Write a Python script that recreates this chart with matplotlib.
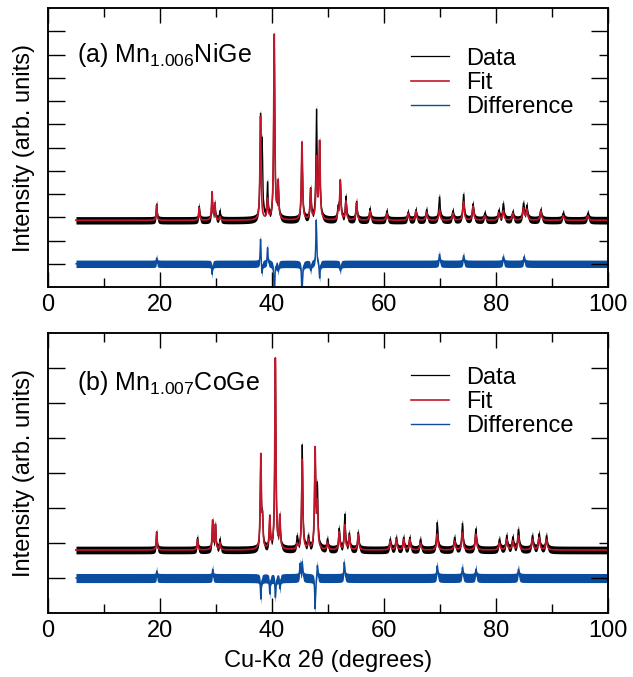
import matplotlib.pyplot as plt
import numpy as np

plt.rcParams['font.family'] = ['Liberation Sans', 'DejaVu Sans']
plt.rcParams['mathtext.default'] = 'regular'
plt.rcParams['font.size'] = 17

two_theta = np.arange(5, 100.0001, 0.01)

# ---- panel (a) Mn1.006NiGe : peak positions (deg) and heights
a_fit_pos = [19.4, 27.0, 29.3, 29.8, 30.7, 37.95, 39.2, 40.4, 41.1, 45.35, 46.9, 47.95, 48.5,
             51.8, 52.2, 53.2, 55.1, 57.5, 60.5, 64.3, 65.7, 67.6, 69.9, 72.3, 74.2, 75.9,
             78.0, 80.5, 81.3, 83.0, 84.9, 85.5, 88.0, 92.0, 96.4]
a_fit_amp = [0.65, 0.55, 1.2, 0.7, 0.15, 4.45, 0.85, 7.95, 1.55, 3.35, 1.3, 2.6, 3.3,
             0.3, 1.7, 0.8, 0.75, 0.4, 0.3, 0.3, 0.4, 0.35, 0.45, 0.3, 0.8, 0.6,
             0.2, 0.3, 0.4, 0.3, 0.5, 0.45, 0.4, 0.2, 0.2]
a_data_pos = a_fit_pos + [38.25]
a_data_amp = [0.7, 0.6, 1.1, 0.7, 0.4, 4.2, 1.5, 7.9, 1.5, 3.3, 1.3, 4.6, 3.2,
              0.5, 1.6, 1.0, 0.8, 0.5, 0.4, 0.35, 0.45, 0.45, 1.0, 0.4, 1.1, 0.7,
              0.3, 0.4, 0.7, 0.35, 0.7, 0.6, 0.45, 0.3, 0.3] + [3.0]
a_diff_pos = [19.4, 29.3, 37.95, 38.2, 39.2, 40.4, 41.1, 45.35, 46.9, 47.9, 48.5, 52.2,
              69.9, 74.2, 81.3, 85.0]
a_diff_amp = [0.25, -0.45, 1.1, -0.5, 0.7, -1.6, -0.3, -1.5, -0.3, 1.9, -0.65, -0.3,
              0.4, 0.35, 0.3, 0.3]
a_base, a_diff_base = 2.87, 1.0
a_noise, a_diff_noise = 0.16, 0.16

# ---- panel (b) Mn1.007CoGe
b_fit_pos = [19.4, 26.7, 29.4, 29.9, 30.7, 38.0, 38.3, 39.6, 40.6, 41.4, 44.5, 45.4, 46.5,
             47.7, 48.1, 49.9, 52.0, 53.0, 53.8, 55.4, 61.1, 62.2, 63.5, 64.6, 66.5, 69.5,
             72.6, 74.0, 76.4, 80.6, 81.9, 83.0, 84.0, 86.5, 87.7, 89.0]
b_fit_amp = [0.52, 0.3, 0.83, 0.7, 0.2, 2.65, 0.75, 0.9, 5.45, 0.9, 0.15, 2.57, 0.25,
             2.84, 1.2, 0.2, 0.5, 0.7, 0.4, 0.45, 0.25, 0.3, 0.3, 0.3, 0.2, 0.45,
             0.25, 0.5, 0.45, 0.2, 0.3, 0.25, 0.4, 0.3, 0.35, 0.3]
b_data_pos = b_fit_pos
b_data_amp = [0.5, 0.35, 0.8, 0.7, 0.3, 2.5, 0.8, 0.85, 5.4, 0.9, 0.35, 2.98, 0.35,
              2.7, 1.7, 0.3, 0.6, 1.0, 0.45, 0.5, 0.3, 0.35, 0.35, 0.35, 0.3, 0.78,
              0.35, 0.75, 0.6, 0.3, 0.4, 0.35, 0.57, 0.4, 0.45, 0.4]
b_diff_pos = [19.4, 29.4, 38.0, 39.6, 40.6, 41.4, 45.0, 45.4, 47.7, 48.1, 52.9, 69.5,
              74.0, 76.4, 84.0]
b_diff_amp = [0.2, 0.25, -0.6, -0.45, -0.55, -0.3, 0.4, 0.45, -0.9, 0.4, 0.45, 0.35,
              0.3, 0.25, 0.25]
b_base, b_diff_base = 1.8, 1.0
b_noise, b_diff_noise = 0.11, 0.13


def profile(pos, amp, scale=1.0):
    y = np.zeros_like(two_theta)
    for p, h in zip(pos, amp):
        hw = scale * (0.15 + 0.002 * p) / 2   # peaks get a bit wider at high angle
        y += h / (1 + ((two_theta - p) / hw) ** 2)
    return y


black, red, blue = '#000000', '#c4162a', '#0a4c9e'

fig = plt.figure(figsize=(6.33, 6.77), dpi=100)
ax_a = fig.add_axes([0.0758, 0.576, 0.8847, 0.412])
ax_b = fig.add_axes([0.0758, 0.0945, 0.8847, 0.4136])

panels = [
    (ax_a, a_fit_pos, a_fit_amp, a_data_pos, a_data_amp, a_diff_pos, a_diff_amp,
     a_base, a_diff_base, a_noise, a_diff_noise, 12, '(a) Mn$_{1.006}$NiGe', 0.8075, 0.858),
    (ax_b, b_fit_pos, b_fit_amp, b_data_pos, b_data_amp, b_diff_pos, b_diff_amp,
     b_base, b_diff_base, b_noise, b_diff_noise, 8, '(b) Mn$_{1.007}$CoGe', 0.796, 0.88),
]

for (ax, fp, fa, dp, da, sp, sa, base, dbase, nz, dnz, ytop, label, ly, legy) in panels:
    fit = base + profile(fp, fa)
    data = base + profile(dp, da)
    diff = dbase + profile(sp, sa, scale=0.7)

    ax.fill_between(two_theta, data - nz, data + nz, color=black, lw=0)
    ax.plot(two_theta, data, color=black, lw=0.9, label='Data')
    ax.plot(two_theta, fit, color=red, lw=1.2, label='Fit')
    ax.fill_between(two_theta, diff - dnz, diff + dnz, color=blue, lw=0)
    ax.plot(two_theta, diff, color=blue, lw=1.0, label='Difference')

    ax.set_xlim(0, 100)
    ax.set_ylim(0, ytop)
    ax.set_xticks(np.arange(0, 101, 20))
    ax.set_xticks(np.arange(10, 100, 20), minor=True)
    ax.set_yticks(np.arange(1, ytop))
    ax.set_yticklabels([])
    ax.tick_params(axis='x', which='major', direction='in', length=11, width=1.0,
                   top=True, pad=5)
    ax.tick_params(axis='x', which='minor', direction='in', length=6.5, width=1.0, top=True)
    ax.tick_params(axis='y', which='major', direction='in', length=12, width=1.0,
                   left=True, right=False)
    for s in ax.spines.values():
        s.set_linewidth(1.1)

    tw = ax.twinx()
    tw.set_ylim(0, ytop)
    tw.set_yticks(np.arange(1, ytop, 2))
    tw.set_yticks(np.arange(2, ytop, 2), minor=True)
    tw.set_yticklabels([])
    tw.tick_params(axis='y', which='major', direction='in', length=12, width=1.0)
    tw.tick_params(axis='y', which='minor', direction='in', length=6.5, width=1.0)
    for s in tw.spines.values():
        s.set_linewidth(1.1)

    ax.set_ylabel('Intensity (arb. units)', labelpad=6)
    ax.text(0.051, ly, label, transform=ax.transAxes, va='baseline', ha='left', fontsize=18)
    ax.legend(loc='upper left', bbox_to_anchor=(0.648, legy), frameon=False,
              handlelength=1.6, handletextpad=0.75, labelspacing=0.1, borderpad=0,
              borderaxespad=0)

ax_b.set_xlabel('Cu-K\u03b1 2\u03b8 (degrees)', labelpad=5)

fig.savefig('out.png', dpi=100)
